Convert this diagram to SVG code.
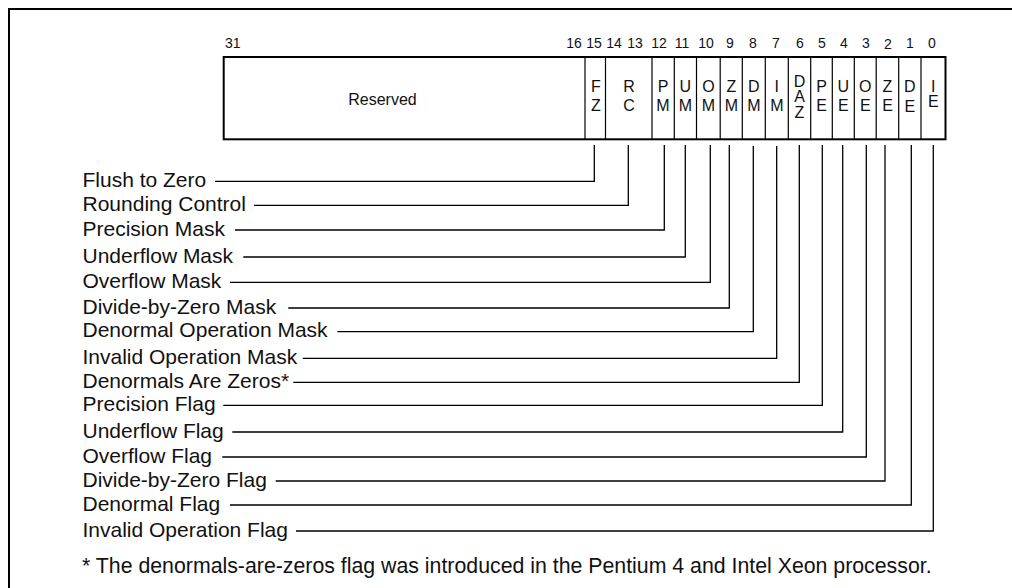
<svg xmlns="http://www.w3.org/2000/svg" width="1012" height="588" viewBox="0 0 1012 588">
<style>
  text { font-family: "Liberation Sans", Arial, sans-serif; fill: #111; }
  .num { font-size: 14px; text-anchor: middle; }
  .cell { font-size: 16px; text-anchor: middle; }
  .lbl { font-size: 21px; }
  .div { stroke: #000; stroke-width: 1.2; }
  .lead { fill: none; stroke: #000; stroke-width: 1.3; }
</style>
<rect x="0" y="0" width="1012" height="588" fill="#fff"/>
<path d="M9,588 V9 H1012" fill="none" stroke="#000" stroke-width="2"/>

<g id="bit-numbers">
  <text class="num" x="232.8" y="48.3">31</text>
  <text class="num" x="574" y="48.3">16</text>
  <text class="num" x="594" y="48.3">15</text>
  <text class="num" x="614" y="48.3">14</text>
  <text class="num" x="635" y="48.3">13</text>
  <text class="num" x="659" y="48.3">12</text>
  <text class="num" x="682" y="48.3">11</text>
  <text class="num" x="706" y="48.3">10</text>
  <text class="num" x="730" y="48.3">9</text>
  <text class="num" x="753" y="48.3">8</text>
  <text class="num" x="776" y="48.3">7</text>
  <text class="num" x="800" y="48.3">6</text>
  <text class="num" x="822" y="48.3">5</text>
  <text class="num" x="844" y="48.3">4</text>
  <text class="num" x="866" y="48.3">3</text>
  <text class="num" x="888" y="49.3">2</text>
  <text class="num" x="910" y="48.3">1</text>
  <text class="num" x="932" y="48.3">0</text>
</g>

<g id="register">
  <rect x="223.7" y="57" width="721.8" height="82.3" fill="#fff" stroke="#000" stroke-width="2"/>
  <line class="div" x1="585" y1="57" x2="585" y2="139.3"/>
  <line class="div" x1="605.5" y1="57" x2="605.5" y2="139.3"/>
  <line class="div" x1="652" y1="57" x2="652" y2="139.3"/>
  <line class="div" x1="674.3" y1="57" x2="674.3" y2="139.3"/>
  <line class="div" x1="696.5" y1="57" x2="696.5" y2="139.3"/>
  <line class="div" x1="720.2" y1="57" x2="720.2" y2="139.3"/>
  <line class="div" x1="742.3" y1="57" x2="742.3" y2="139.3"/>
  <line class="div" x1="765.3" y1="57" x2="765.3" y2="139.3"/>
  <line class="div" x1="788.3" y1="57" x2="788.3" y2="139.3"/>
  <line class="div" x1="810.7" y1="57" x2="810.7" y2="139.3"/>
  <line class="div" x1="832.3" y1="57" x2="832.3" y2="139.3"/>
  <line class="div" x1="854.3" y1="57" x2="854.3" y2="139.3"/>
  <line class="div" x1="876.2" y1="57" x2="876.2" y2="139.3"/>
  <line class="div" x1="898.7" y1="57" x2="898.7" y2="139.3"/>
  <line class="div" x1="921" y1="57" x2="921" y2="139.3"/>
</g>

<g id="field-reserved"><text x="382.5" y="105" font-size="16" text-anchor="middle">Reserved</text></g>
<g id="field-FZ"><text class="cell" x="596" y="91.7">F</text><text class="cell" x="596" y="110.7">Z</text></g>
<g id="field-RC"><text class="cell" x="629" y="91.7">R</text><text class="cell" x="629" y="110.7">C</text></g>
<g id="field-PM"><text class="cell" x="663" y="91.7">P</text><text class="cell" x="663" y="110.7">M</text></g>
<g id="field-UM"><text class="cell" x="685.4" y="91.7">U</text><text class="cell" x="685.4" y="110.7">M</text></g>
<g id="field-OM"><text class="cell" x="708.4" y="91.7">O</text><text class="cell" x="708.4" y="110.7">M</text></g>
<g id="field-ZM"><text class="cell" x="731.3" y="91.7">Z</text><text class="cell" x="731.3" y="110.7">M</text></g>
<g id="field-DM"><text class="cell" x="753.8" y="91.7">D</text><text class="cell" x="753.8" y="110.7">M</text></g>
<g id="field-IM"><text class="cell" x="776.8" y="91.7">I</text><text class="cell" x="776.8" y="110.7">M</text></g>
<g id="field-DAZ"><text class="cell" x="799.5" y="86.7">D</text><text class="cell" x="799.5" y="101.7">A</text><text class="cell" x="799.5" y="118.3">Z</text></g>
<g id="field-PE"><text class="cell" x="821.5" y="91.7">P</text><text class="cell" x="821.5" y="110.7">E</text></g>
<g id="field-UE"><text class="cell" x="843.3" y="91.7">U</text><text class="cell" x="843.3" y="110.7">E</text></g>
<g id="field-OE"><text class="cell" x="865.3" y="91.7">O</text><text class="cell" x="865.3" y="110.7">E</text></g>
<g id="field-ZE"><text class="cell" x="887.5" y="91.7">Z</text><text class="cell" x="887.5" y="110.7">E</text></g>
<g id="field-DE"><text class="cell" x="909.9" y="91.7">D</text><text class="cell" x="909.9" y="111.7">E</text></g>
<g id="field-IE"><text class="cell" x="933.3" y="91.7">I</text><text class="cell" x="933.3" y="107.3">E</text></g>

<g id="labels">
  <text class="lbl" x="82.5" y="186.8">Flush to Zero</text>
  <text class="lbl" x="82.5" y="210.8">Rounding Control</text>
  <text class="lbl" x="82.5" y="235.5">Precision Mask</text>
  <text class="lbl" x="82.5" y="262.5">Underflow Mask</text>
  <text class="lbl" x="82.5" y="287.8">Overflow Mask</text>
  <text class="lbl" x="82.5" y="313.5">Divide-by-Zero Mask</text>
  <text class="lbl" x="82.5" y="337.2">Denormal Operation Mask</text>
  <text class="lbl" x="82.5" y="363.8">Invalid Operation Mask</text>
  <text class="lbl" x="82.5" y="387.8">Denormals Are Zeros*</text>
  <text class="lbl" x="82.5" y="410.8">Precision Flag</text>
  <text class="lbl" x="82.5" y="437.5">Underflow Flag</text>
  <text class="lbl" x="82.5" y="462.5">Overflow Flag</text>
  <text class="lbl" x="82.5" y="486.5">Divide-by-Zero Flag</text>
  <text class="lbl" x="82.5" y="510.5">Denormal Flag</text>
  <text class="lbl" x="82.5" y="536.5">Invalid Operation Flag</text>
</g>

<g id="connectors">
  <polyline class="lead" points="215,181.3 594.3,181.3 594.3,145"/>
  <polyline class="lead" points="254,205.3 628.3,205.3 628.3,145"/>
  <polyline class="lead" points="235,230 664.3,230 664.3,145"/>
  <polyline class="lead" points="243.3,257 685.3,257 685.3,145"/>
  <polyline class="lead" points="230,282.3 710.3,282.3 710.3,145"/>
  <polyline class="lead" points="288.3,308 729.3,308 729.3,145"/>
  <polyline class="lead" points="337.3,331.7 753.3,331.7 753.3,146"/>
  <polyline class="lead" points="302.7,358.3 776.7,358.3 776.7,146"/>
  <polyline class="lead" points="293.3,382.3 799.3,382.3 799.3,145"/>
  <polyline class="lead" points="223.3,405.3 822.3,405.3 822.3,145"/>
  <polyline class="lead" points="232.3,432 842.7,432 842.7,145"/>
  <polyline class="lead" points="222.3,457 866.3,457 866.3,145"/>
  <polyline class="lead" points="275.7,481 885,481 885,145"/>
  <polyline class="lead" points="230,505 911.3,505 911.3,145"/>
  <polyline class="lead" points="296,531 933.3,531 933.3,145"/>
</g>

<g id="footnote">
  <text x="82" y="573.3" font-size="21.3">* The denormals-are-zeros flag was introduced in the Pentium 4 and Intel Xeon processor.</text>
</g>
</svg>
